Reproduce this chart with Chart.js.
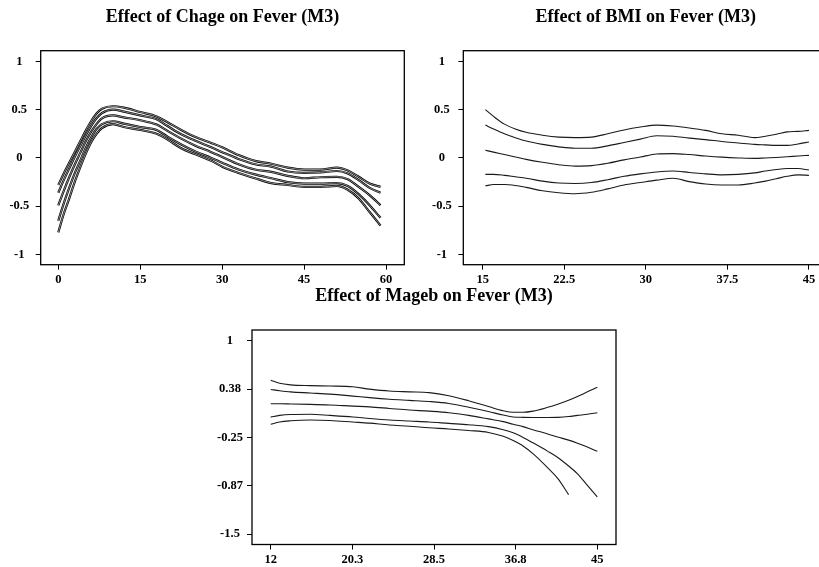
<!DOCTYPE html>
<html>
<head>
<meta charset="utf-8">
<title>Effect on Fever (M3)</title>
<script src="https://cdn.jsdelivr.net/npm/chart.js@4.4.1/dist/chart.umd.min.js"></script>
<style>
  html, body { margin: 0; padding: 0; background: #fff; width: 819px; height: 567px; overflow: hidden; position: relative; }
  canvas { position: absolute; }
</style>
</head>
<body>
<canvas id="chageChart" width="406" height="290" style="left:0px;top:0px"></canvas>
<canvas id="bmiChart" width="407" height="290" style="left:423px;top:0px"></canvas>
<canvas id="magebChart" width="406" height="297" style="left:212px;top:270px"></canvas>
<script>
// --- Effect of Chage (upper band, upper inner, fit, lower inner, lower band) ---
const chageX      = [0, 1, 2, 3, 4, 5, 6, 7, 8, 10, 12, 15, 18, 20, 22.5, 25, 28, 30, 33, 36, 39, 42, 45, 48, 51, 53, 55, 57, 59];
const chageUpper2 = [-0.28, -0.16, -0.05, 0.06, 0.17, 0.28, 0.38, 0.46, 0.51, 0.535, 0.52, 0.475, 0.43, 0.37, 0.29, 0.22, 0.155, 0.11, 0.03, -0.03, -0.06, -0.10, -0.12, -0.12, -0.10, -0.13, -0.195, -0.265, -0.30];
const chageUpper1 = [-0.36, -0.23, -0.11, 0.01, 0.12, 0.23, 0.33, 0.41, 0.465, 0.50, 0.48, 0.44, 0.40, 0.33, 0.245, 0.18, 0.11, 0.06, -0.01, -0.065, -0.09, -0.14, -0.155, -0.15, -0.135, -0.16, -0.23, -0.31, -0.36];
const chageFit    = [-0.49, -0.34, -0.20, -0.07, 0.05, 0.17, 0.27, 0.35, 0.41, 0.44, 0.42, 0.39, 0.345, 0.28, 0.20, 0.13, 0.06, 0.01, -0.065, -0.12, -0.145, -0.185, -0.21, -0.20, -0.195, -0.22, -0.30, -0.385, -0.49];
const chageLower1 = [-0.65, -0.47, -0.31, -0.16, -0.03, 0.10, 0.21, 0.30, 0.35, 0.38, 0.355, 0.32, 0.29, 0.22, 0.14, 0.07, 0.00, -0.05, -0.12, -0.17, -0.21, -0.25, -0.265, -0.265, -0.26, -0.29, -0.375, -0.49, -0.62];
const chageLower2 = [-0.77, -0.58, -0.42, -0.25, -0.10, 0.04, 0.16, 0.25, 0.31, 0.35, 0.32, 0.29, 0.25, 0.19, 0.10, 0.04, -0.03, -0.09, -0.155, -0.21, -0.26, -0.28, -0.30, -0.30, -0.29, -0.33, -0.42, -0.56, -0.70];

// --- Effect of BMI ---
const bmiX      = [15.25, 16, 17, 18, 19, 20.5, 22, 23.5, 25, 26.5, 28, 29.5, 31, 32.5, 34, 35.5, 37, 38.5, 40, 41, 42, 43, 44, 45];
const bmiUpper2 = [0.50, 0.43, 0.35, 0.30, 0.265, 0.235, 0.215, 0.21, 0.215, 0.25, 0.29, 0.32, 0.34, 0.33, 0.31, 0.285, 0.25, 0.235, 0.21, 0.225, 0.245, 0.27, 0.275, 0.285];
const bmiUpper1 = [0.34, 0.30, 0.25, 0.21, 0.175, 0.14, 0.115, 0.10, 0.10, 0.125, 0.16, 0.195, 0.23, 0.225, 0.205, 0.19, 0.17, 0.155, 0.14, 0.135, 0.13, 0.13, 0.145, 0.165];
const bmiFit    = [0.08, 0.06, 0.035, 0.01, -0.015, -0.045, -0.07, -0.085, -0.08, -0.055, -0.02, 0.01, 0.04, 0.045, 0.035, 0.02, 0.008, 0.0, -0.005, 0.0, 0.005, 0.012, 0.02, 0.027];
const bmiLower1 = [-0.17, -0.17, -0.18, -0.195, -0.21, -0.24, -0.26, -0.265, -0.255, -0.225, -0.19, -0.165, -0.145, -0.135, -0.15, -0.165, -0.175, -0.17, -0.155, -0.135, -0.12, -0.11, -0.11, -0.125];
const bmiLower2 = [-0.29, -0.275, -0.275, -0.285, -0.305, -0.34, -0.36, -0.37, -0.355, -0.32, -0.28, -0.255, -0.23, -0.21, -0.245, -0.27, -0.28, -0.28, -0.26, -0.24, -0.215, -0.19, -0.175, -0.18];

// --- Effect of Mageb ---
const magebX      = [12, 12.9, 14, 16, 18, 20.3, 22, 24, 26, 28, 30, 32, 34, 35.5, 36.5, 37.5, 38.5, 40, 41, 42.1, 43, 44, 45];
const magebUpper2 = [0.49, 0.45, 0.43, 0.42, 0.415, 0.405, 0.375, 0.35, 0.34, 0.33, 0.29, 0.225, 0.15, 0.095, 0.075, 0.075, 0.09, 0.14, 0.18, 0.23, 0.28, 0.34, 0.40];
const magebUpper1 = [0.37, 0.355, 0.34, 0.325, 0.31, 0.285, 0.265, 0.245, 0.23, 0.215, 0.19, 0.14, 0.085, 0.04, 0.015, 0.01, 0.008, 0.008, 0.01, 0.02, 0.035, 0.05, 0.07];
const magebFit    = [0.185, 0.185, 0.183, 0.178, 0.17, 0.155, 0.145, 0.125, 0.105, 0.09, 0.07, 0.035, -0.01, -0.045, -0.08, -0.11, -0.15, -0.205, -0.245, -0.285, -0.325, -0.375, -0.43];
const magebLower1 = [0.013, 0.035, 0.047, 0.05, 0.035, 0.015, -0.005, -0.025, -0.038, -0.05, -0.068, -0.085, -0.11, -0.15, -0.19, -0.25, -0.32, -0.43, -0.51, -0.62, -0.72, -0.87, -1.02];
const magebLower2 = [-0.08, -0.05, -0.035, -0.025, -0.03, -0.05, -0.065, -0.09, -0.105, -0.125, -0.14, -0.16, -0.185, -0.235, -0.29, -0.36, -0.46, -0.645, -0.78, -0.99, null, null, null];

// ticks
const chageXTicks = [0, 15, 30, 45, 60];
const chageXLabels = ['0', '15', '30', '45', '60'];
const bmiXTicks = [15, 22.5, 30, 37.5, 45];
const bmiXLabels = ['15', '22.5', '30', '37.5', '45'];
const magebXTicks = [12, 20.25, 28.5, 36.75, 45];
const magebXLabels = ['12', '20.3', '28.5', '36.8', '45'];
const effectYTicks = [-1, -0.5, 0, 0.5, 1];
const effectYLabels = ['-1', '-0.5', '0', '0.5', '1'];
const magebYTicks = [-1.5, -0.875, -0.25, 0.375, 1];
const magebYLabels = ['-1.5', '-0.87', '-0.25', '0.38', '1'];

const serif = '"Liberation Serif", "Times New Roman", serif';
const tickFont = { family: serif, size: 12.5, weight: 'bold' };

// moldura preta em volta da area do grafico
const framePlugin = {
    id: 'frame',
    afterDatasetsDraw(chart) {
        const a = chart.chartArea;
        const ctx = chart.ctx;
        ctx.save();
        ctx.strokeStyle = '#000';
        ctx.lineWidth = 1.3;
        ctx.strokeRect(a.left, a.top, a.right - a.left, a.bottom - a.top);
        ctx.restore();
    }
};

function makePanel(id, p) {
    const datasets = [];
    p.series.forEach(ys => {
        const pts = p.xs.map((x, i) => ({ x: x, y: ys[i] })).filter(pt => pt.y !== null);
        const base = { data: pts, pointRadius: 0, fill: false, cubicInterpolationMode: 'monotone' };
        if (p.hollow) {
            // linha "oca": traço preto com miolo claro por cima
            datasets.push(Object.assign({}, base, { borderColor: '#c4c4c4', borderWidth: 0.7, order: 0 }));
            datasets.push(Object.assign({}, base, { borderColor: '#000', borderWidth: 2.2, order: 1 }));
        } else {
            datasets.push(Object.assign({}, base, { borderColor: '#1a1a1a', borderWidth: 1.1 }));
        }
    });

    return new Chart(document.getElementById(id), {
        type: 'line',
        data: { datasets: datasets },
        plugins: [framePlugin],
        options: {
            responsive: false,
            animation: false,
            events: [],
            layout: { padding: { left: 0, top: 0, bottom: 0, right: p.padRight } },
            plugins: {
                legend: { display: false },
                tooltip: { enabled: false },
                title: {
                    display: true,
                    text: p.title,
                    fullSize: false,
                    color: '#000',
                    font: { family: serif, size: 18, weight: 'bold', lineHeight: 1.2 },
                    padding: { top: p.titleTop, bottom: p.titleBottom }
                }
            },
            scales: {
                x: {
                    type: 'linear',
                    min: p.xMin, max: p.xMax,
                    afterFit: s => { s.height = p.xAxisH; },
                    afterBuildTicks: s => { s.ticks = p.xTicks.map(v => ({ value: v })); },
                    ticks: { callback: (v, i) => p.xLabels[i], font: tickFont, color: '#000', padding: p.xPad, maxRotation: 0, autoSkip: false },
                    grid: { drawOnChartArea: false, drawTicks: true, tickLength: 5, color: '#000', lineWidth: 1 },
                    border: { display: false }
                },
                y: {
                    min: p.yMin, max: p.yMax,
                    afterFit: s => { s.width = p.yAxisW; },
                    afterBuildTicks: s => { s.ticks = p.yTicks.map(v => ({ value: v })); },
                    ticks: { callback: (v, i) => p.yLabels[i], font: tickFont, color: '#000', padding: p.yPad, crossAlign: 'center', autoSkip: false },
                    grid: { drawOnChartArea: false, drawTicks: true, tickLength: 5, color: '#000', lineWidth: 1 },
                    border: { display: false }
                }
            }
        }
    });
}

window.onload = function() {
    makePanel('chageChart', {
        title: 'Effect of Chage on Fever (M3)',
        xs: chageX,
        series: [chageUpper2, chageUpper1, chageFit, chageLower1, chageLower2],
        hollow: true,
        xMin: -3.22, xMax: 63.35, yMin: -1.105, yMax: 1.11,
        xTicks: chageXTicks, xLabels: chageXLabels,
        yTicks: effectYTicks, yLabels: effectYLabels,
        yAxisW: 40.7, xAxisH: 25.3, padRight: 1.7,
        titleTop: 6.7, titleBottom: 22.4, xPad: 3, yPad: 6.5
    });

    makePanel('bmiChart', {
        title: 'Effect of BMI on Fever (M3)',
        xs: bmiX,
        series: [bmiUpper2, bmiUpper1, bmiFit, bmiLower1, bmiLower2],
        hollow: false,
        xMin: 13.22, xMax: 46.78, yMin: -1.105, yMax: 1.11,
        xTicks: bmiXTicks, xLabels: bmiXLabels,
        yTicks: effectYTicks, yLabels: effectYLabels,
        yAxisW: 40.3, xAxisH: 25.3, padRight: 1.7,
        titleTop: 6.7, titleBottom: 22.4, xPad: 3, yPad: 6.5
    });

    makePanel('magebChart', {
        title: 'Effect of Mageb on Fever (M3)',
        xs: magebX,
        series: [magebUpper2, magebUpper1, magebFit, magebLower1, magebLower2],
        hollow: false,
        xMin: 10.11, xMax: 46.89, yMin: -1.635, yMax: 1.14,
        xTicks: magebXTicks, xLabels: magebXLabels,
        yTicks: magebYTicks, yLabels: magebYLabels,
        yAxisW: 40, xAxisH: 22.5, padRight: 2,
        titleTop: 15.2, titleBottom: 23.2, xPad: 2.5, yPad: 4
    });
};
</script>
</body>
</html>
